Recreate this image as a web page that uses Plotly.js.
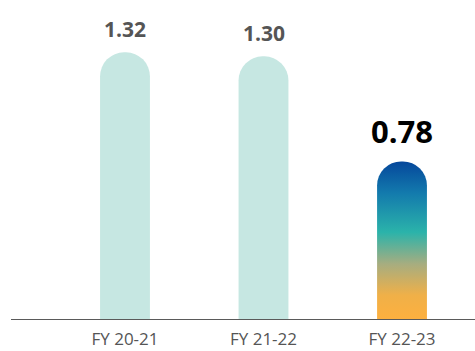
<!DOCTYPE html>
<html>
<head>
<meta charset="utf-8">
<script src="https://cdn.plot.ly/plotly-3.0.1.min.js"></script>
<style>
html,body{margin:0;padding:0;background:#fff;}
#chart{width:475px;height:351px;}
</style>
</head>
<body>
<div id="chart"></div>
<script>
const categories = ["FY 20-21", "FY 21-22", "FY 22-23"];
const values = [1.32, 1.30, 0.78];
const labels = ["1.32", "1.30", "0.78"];

const barColors = ["#c6e7e2", "#c6e7e2", "#1a7fb0"];
const labelColors = ["#555555", "#555555", "#000000"];
const labelSizes = [21, 21, 31];
const FONT = "Open Sans, Lato, sans-serif";

const trace = {
  type: "bar",
  x: categories,
  y: values,
  width: 0.36,
  marker: {color: barColors, cornerradius: 25, line: {width: 0}},
  hoverinfo: "none"
};

const annotations = categories.map((c, i) => ({
  x: c, y: values[i], xref: "x", yref: "y",
  text: "<b>" + labels[i] + "</b>",
  showarrow: false, yanchor: "bottom", yshift: 7,
  font: {family: FONT, size: labelSizes[i], color: labelColors[i]}
}));

const layout = {
  width: 475, height: 351,
  margin: {l: 11, r: 0, t: 0, b: 32},
  paper_bgcolor: "#ffffff", plot_bgcolor: "#ffffff",
  showlegend: false,
  xaxis: {
    range: [-0.823, 2.527],
    showgrid: false, zeroline: false,
    showline: true, linecolor: "#5a5a5a", linewidth: 1,
    ticks: "", ticklabelstandoff: 5,
    tickfont: {family: FONT, size: 17, color: "#555555"},
    fixedrange: true
  },
  yaxis: {
    range: [0, 1.579], visible: false, showgrid: false, zeroline: false, fixedrange: true
  },
  annotations: annotations
};

function applyGradient(gd) {
  const svg = gd.querySelector("svg.main-svg");
  if (!svg) return;
  let defs = svg.querySelector("defs");
  if (!defs) { defs = document.createElementNS("http://www.w3.org/2000/svg", "defs"); svg.insertBefore(defs, svg.firstChild); }
  if (!defs.querySelector("#barGrad")) {
    const g = document.createElementNS("http://www.w3.org/2000/svg", "linearGradient");
    g.setAttribute("id", "barGrad");
    g.setAttribute("x1", "0"); g.setAttribute("y1", "0");
    g.setAttribute("x2", "0"); g.setAttribute("y2", "1");
    const stops = [[0, "#05479b"], [0.2, "#137aad"], [0.45, "#2bb3aa"], [0.65, "#a6ad80"], [0.85, "#f0b048"], [1, "#fdb03f"]];
    stops.forEach(s => {
      const st = document.createElementNS("http://www.w3.org/2000/svg", "stop");
      st.setAttribute("offset", s[0]); st.setAttribute("stop-color", s[1]);
      g.appendChild(st);
    });
    defs.appendChild(g);
  }
  const paths = gd.querySelectorAll(".barlayer .point path");
  if (paths.length >= 3) {
    paths[2].style.fill = "url(#barGrad)";
  }
}

Plotly.newPlot("chart", [trace], layout, {displayModeBar: false, staticPlot: true}).then(gd => {
  applyGradient(gd);
  gd.on("plotly_afterplot", () => applyGradient(gd));
});
</script>
</body>
</html>
